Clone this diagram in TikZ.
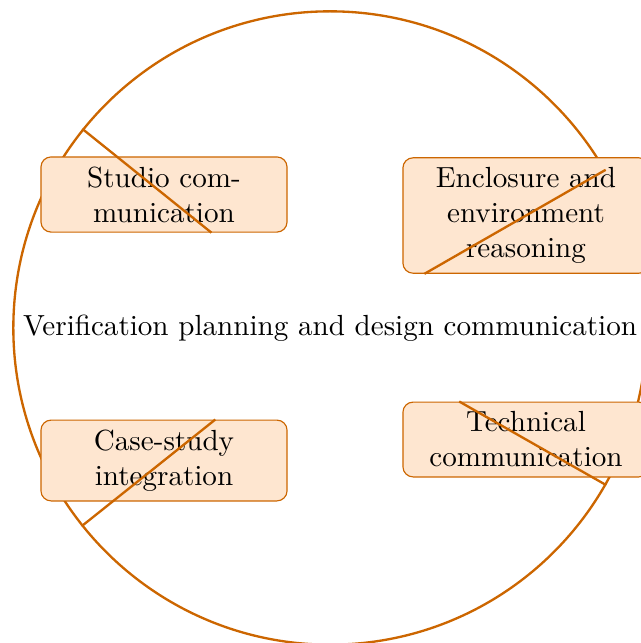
\documentclass[tikz,border=0pt]{standalone}
\usetikzlibrary{shapes.geometric}
\definecolor{accent}{RGB}{204,102,0}
\definecolor{boxfill}{RGB}{254,230,208}
\tikzset{
  hub/.style={circle, draw=accent, thick, inner sep=0.3333em},
  topic/.style={draw=accent, fill=boxfill, rounded corners=3.5pt, text width=77.9pt, align=center},
  link/.style={draw=accent, thick}
}
\begin{document}
\begin{tikzpicture}[x=0.3436pt, y=-0.3436pt]
\useasboundingbox (0,0) rectangle (641,643);
\node[hub] (c) at (330,328) {Verification planning and design communication};
\node[topic] (b1) at (164,194.5) {Studio communication};
\node[topic] (b2) at (526,215.5) {Enclosure and environment reasoning};
\node[topic] (b3) at (164,460.5) {Case-study integration};
\node[topic] (b4) at (526,439.5) {Technical communication};
\draw[link] (c) -- (b1);
\draw[link] (c) -- (b2);
\draw[link] (c) -- (b3);
\draw[link] (c) -- (b4);
\end{tikzpicture}
\end{document}
